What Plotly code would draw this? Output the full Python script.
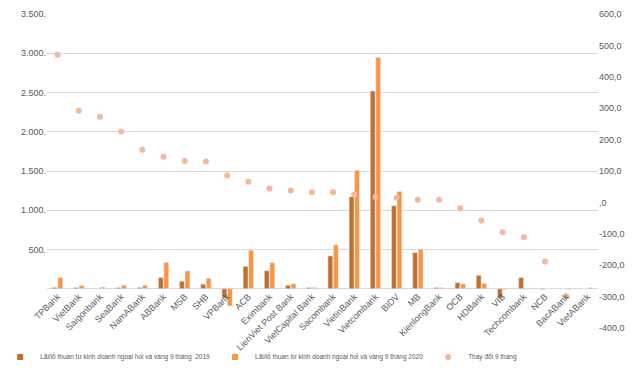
import plotly.graph_objects as go

banks = ["TPBank", "VietBank", "Saigonbank", "SeaBank", "NamABank", "ABBank", "MSB", "SHB",
         "VPBank", "ACB", "Eximbank", "LienViet Post Bank", "VietCapital Bank", "Sacombank",
         "VietinBank", "Vietcombank", "BIDV", "MB", "KienlongBank", "OCB", "HDBank", "VIB",
         "Techcombank", "NCB", "BacABank", "VietABank"]
v2019 = [17, 15, 0, 15, 18, 142, 96, 58, -118, 285, 230, 45, 16, 419, 1172, 2519, 1058, 462,
         15, 79, 171, -118, 142, -8, 0, 0]
v2020 = [142, 40, 20, 45, 45, 335, 227, 134, -219, 491, 331, 63, 16, 558, 1508, 2947, 1240, 504,
         15, 63, 67, -10, -8, 0, -8, 15]
change = [470, 292, 273, 226, 168, 145, 132, 130, 86, 66, 44, 38, 32, 32, 25, 17, 15, 8.5, 8.5,
          -19, -58, -95, -111, -188, -299, None]

left_vals = [-500, 0, 500, 1000, 1500, 2000, 2500, 3000, 3500]
left_text = ["", "", "500.", "1.000.", "1.500.", "2.000.", "2.500.", "3.000.", "3.500."]
right_vals = [-400, -300, -200, -100, 0, 100, 200, 300, 400, 500, 600]
right_text = ["-400,0", "-300,0", "-200,0", "-100,0", ",0", "100,0", "200,0", "300,0",
              "400,0", "500,0", "600,0"]

names = ["Lãi/lỗ thuần từ kinh doanh ngoại hối và vàng 9 tháng  2019",
         "Lãi/lỗ thuần từ kinh doanh ngoại hối và vàng 9 tháng 2020",
         "Thay đổi 9 tháng"]

FONT = "Liberation Sans, Arial, sans-serif"
GRAY = "#595959"
C2019, C2020, CDOT = "#C0702E", "#F79646", "#F4B89C"

fig = go.Figure()
fig.add_trace(go.Bar(x=banks, y=v2019, name=names[0], marker_color=C2019, yaxis="y",
                     showlegend=False))
fig.add_trace(go.Bar(x=banks, y=v2020, name=names[1], marker_color=C2020, yaxis="y",
                     showlegend=False))
fig.add_trace(go.Scatter(x=banks, y=change, name=names[2], mode="markers", yaxis="y2",
                         marker=dict(color=CDOT, size=6), showlegend=False))
# legend entries (small square/circle symbols like the original)
for nm, col, sym in [(names[0], C2019, "square"), (names[1], C2020, "square"),
                     (names[2], CDOT, "circle")]:
    fig.add_trace(go.Scatter(x=[None], y=[None], name=nm, mode="markers", yaxis="y",
                             marker=dict(color=col, size=6, symbol=sym)))

# page body has an 8px default margin: figure is 632x368 placed at (8, 8)
fig.update_layout(
    width=632, height=368,
    margin=dict(l=39, r=42, t=6, b=48, autoexpand=False),
    paper_bgcolor="white", plot_bgcolor="white",
    font=dict(family=FONT, size=9, color=GRAY),
    barmode="group", bargap=0.48, bargroupgap=0.12,
    xaxis=dict(anchor="free", position=0.125, tickangle=-45, showgrid=False,
               showline=False, ticks="", automargin=False, range=[-0.5, len(banks) - 0.5],
               tickfont=dict(size=9, color=GRAY)),
    yaxis=dict(range=[-500, 3500], tickvals=left_vals, ticktext=left_text,
               showgrid=True, gridcolor="#D9D9D9", gridwidth=1, zeroline=False,
               ticks="", automargin=False, ticklabeloverflow="allow",
               tickfont=dict(size=9, color=GRAY)),
    yaxis2=dict(range=[-400, 600], tickvals=right_vals, ticktext=right_text,
                overlaying="y", side="right", showgrid=False, zeroline=False,
                ticks="", automargin=False, ticklabeloverflow="allow",
                tickfont=dict(size=9, color=GRAY)),
    legend=dict(orientation="h", x=-0.085, xanchor="left", y=-0.092, yanchor="middle",
                font=dict(size=6.5, color=GRAY), itemwidth=30, traceorder="normal",
                bgcolor="rgba(0,0,0,0)"),
    showlegend=True,
)

fig.write_html("out.html")
